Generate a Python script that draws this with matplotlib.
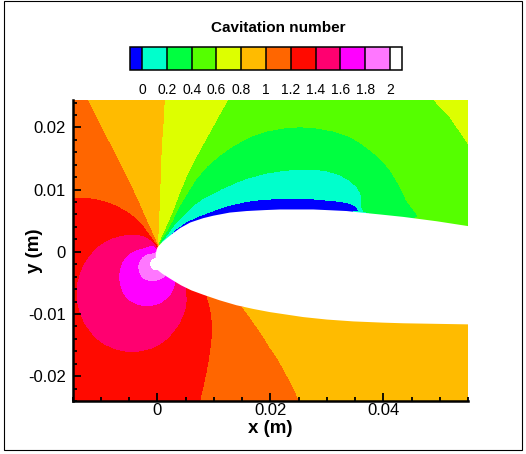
import matplotlib
matplotlib.use("Agg")
import matplotlib.pyplot as plt
import matplotlib.ticker as mticker
from matplotlib.colors import ListedColormap, BoundaryNorm
from matplotlib.tri import Triangulation
from matplotlib.patches import Polygon, Rectangle

plt.rcParams['font.family'] = ['Liberation Sans', 'DejaVu Sans']
plt.rcParams['axes.unicode_minus'] = False

# ---------------- values ----------------
levels = [0.0, 0.2, 0.4, 0.6, 0.8, 1.0, 1.2, 1.4, 1.6, 1.8, 2.0]
level_labels = ["0", "0.2", "0.4", "0.6", "0.8", "1", "1.2", "1.4", "1.6", "1.8", "2"]
band_colors = ["#00FFCC", "#00FF40", "#55FF00", "#DDFF00", "#FFBB00",
               "#FF6600", "#FF0A00", "#FF0070", "#FF00FF", "#FF77FF"]
under_color = "#0000FF"
over_color = "#FFFFFF"

x_ticks = [0.0, 0.02, 0.04]
x_tick_labels = ["0", "0.02", "0.04"]
y_ticks = [-0.02, -0.01, 0.0, 0.01, 0.02]
y_tick_labels = ["-0.02", "-0.01", "0", "0.01", "0.02"]

# hydrofoil outline (m) and cavitation number read on its surface
nose_tip = (0.0, 0.0007)
foil_upper_x = [0.0008, 0.0017, 0.0028, 0.0040, 0.0058, 0.0081, 0.0099, 0.0128, 0.0158, 0.0190,
                0.0217, 0.0250, 0.0276, 0.0300, 0.0335, 0.0361, 0.0394, 0.0436, 0.0495, 0.0552, 0.0567]
foil_upper_y = [0.0015, 0.0022, 0.0030, 0.0038, 0.0047, 0.0054, 0.0058, 0.0063, 0.00655, 0.0067,
                0.0068, 0.0068, 0.0068, 0.0067, 0.00655, 0.0063, 0.0060, 0.0056, 0.0049, 0.0041, 0.0039]
foil_upper_sigma = [0.12, 0.05, -0.03, -0.1, -0.1, -0.1, -0.1, -0.1, -0.1, -0.1,
                    -0.1, -0.1, -0.1, -0.1, -0.1, 0.1, 0.3, 0.36, 0.45, 0.5, 0.5]
foil_front_x = [-0.0002, -0.0003, -0.0003, -0.0003, -0.0002, 0.0, 0.0004, 0.0009]
foil_front_y = [0.0001, -0.0006, -0.0013, -0.0020, -0.0025, -0.0029, -0.0032, -0.00355]
foil_front_sigma = [1.75, 1.9, 2.05, 2.2, 2.1, 2.0, 1.9, 1.85]
foil_lower_x = [0.0015, 0.0022, 0.0031, 0.0042, 0.0060, 0.0081, 0.0110, 0.0140, 0.0170, 0.0199,
                0.0258, 0.0300, 0.0347, 0.0400, 0.0436, 0.0500, 0.0567]
foil_lower_y = [-0.0039, -0.0043, -0.0048, -0.0054, -0.0062, -0.0069, -0.0078, -0.0086, -0.0092, -0.0097,
                -0.0105, -0.0109, -0.0112, -0.0114, -0.0115, -0.0116, -0.0117]
foil_lower_sigma = [1.75, 1.68, 1.6, 1.5, 1.3, 1.2, 1.1, 1.02, 0.97, 0.93,
                    0.9, 0.9, 0.9, 0.9, 0.88, 0.87, 0.85]

# iso-lines of the cavitation number traced on the picture (x, y in m)
iso_0_0 = [(0.0022, 0.0028), (0.0030, 0.0035), (0.0040, 0.0041), (0.0047, 0.0046), (0.0055, 0.0050),
           (0.0065, 0.0054), (0.0075, 0.0058), (0.0087, 0.0062), (0.0099, 0.0066), (0.0113, 0.0071),
           (0.0128, 0.0075), (0.0143, 0.0078), (0.0158, 0.0081), (0.0174, 0.0083), (0.0190, 0.0084),
           (0.0217, 0.0086), (0.0250, 0.0086), (0.0276, 0.0085), (0.0300, 0.0083), (0.0323, 0.0081),
           (0.0340, 0.0078), (0.0350, 0.0074), (0.0355, 0.0069), (0.0357, 0.0065)]
iso_0_2 = [(0.00046, 0.00136), (0.0008, 0.0018), (0.0013, 0.0023), (0.0019, 0.0030), (0.0025, 0.0038),
           (0.0032, 0.0046), (0.0040, 0.0054), (0.0052, 0.0065), (0.0065, 0.0076), (0.0081, 0.0086),
           (0.0099, 0.0094), (0.0113, 0.0101), (0.0128, 0.0107), (0.0143, 0.0113), (0.0158, 0.0118),
           (0.0174, 0.0122), (0.0190, 0.0126), (0.0217, 0.0130), (0.0250, 0.0133), (0.0276, 0.0133),
           (0.0300, 0.0130), (0.0323, 0.0124), (0.0340, 0.0115), (0.0353, 0.0105), (0.0360, 0.0094),
           (0.0362, 0.0083), (0.0362, 0.0072), (0.0366, 0.0065)]
iso_0_4 = [(0.00034, 0.00143), (0.0006, 0.0019), (0.0010, 0.0025), (0.0016, 0.0033), (0.0022, 0.0043),
           (0.0030, 0.0058), (0.0040, 0.0075), (0.0053, 0.0095), (0.0069, 0.0118), (0.0088, 0.0138),
           (0.0111, 0.0156), (0.0137, 0.0172), (0.0164, 0.0185), (0.0193, 0.0194), (0.0223, 0.0199),
           (0.0252, 0.0201), (0.0282, 0.0199), (0.0312, 0.0194), (0.0341, 0.0185), (0.0360, 0.0175),
           (0.0376, 0.0164), (0.0395, 0.0150), (0.0412, 0.0132), (0.0428, 0.0108), (0.0441, 0.0083),
           (0.0455, 0.0066), (0.0462, 0.0057)]
iso_0_6 = [(0.00021, 0.00147), (0.0004, 0.0019), (0.0007, 0.0025), (0.0011, 0.0033), (0.0016, 0.0043),
           (0.0022, 0.0055), (0.0030, 0.0073), (0.0040, 0.0097), (0.0051, 0.0121), (0.0064, 0.0145),
           (0.0078, 0.0169), (0.0093, 0.0193), (0.0108, 0.0218), (0.0123, 0.0242), (0.0135, 0.0266)]
iso_0_6_right = [(0.0466, 0.0266), (0.0492, 0.0242), (0.0518, 0.0217), (0.0552, 0.0172), (0.0567, 0.0152)]
iso_0_8 = [(0.00003, 0.0015), (0.00006, 0.0020), (0.0001, 0.0027), (0.00015, 0.0037), (0.0002, 0.0050),
           (0.0003, 0.0068), (0.0004, 0.0091), (0.0005, 0.0120), (0.0006, 0.0146), (0.0007, 0.0172),
           (0.0010, 0.0207), (0.0012, 0.0242), (0.0013, 0.0266)]
iso_1_0 = [(-0.00025, 0.00146), (-0.0004, 0.0019), (-0.0007, 0.0025), (-0.0011, 0.0033), (-0.0016, 0.0043),
           (-0.0022, 0.0055), (-0.0029, 0.0070), (-0.0037, 0.0086), (-0.0051, 0.0113), (-0.0066, 0.0140),
           (-0.0081, 0.0167), (-0.0096, 0.0193), (-0.0110, 0.0218), (-0.0123, 0.0242), (-0.0134, 0.0266)]
iso_1_0_lower = [(0.0148, -0.0089), (0.0162, -0.0106), (0.0176, -0.0124), (0.0187, -0.0139),
                 (0.0197, -0.0154), (0.0211, -0.0172), (0.0222, -0.0190), (0.0232, -0.0207),
                 (0.0241, -0.0223), (0.0249, -0.0239), (0.0256, -0.0258)]
iso_1_2 = [(-0.00046, 0.00136), (-0.0007, 0.0017), (-0.0010, 0.0021), (-0.0014, 0.0026), (-0.0019, 0.0032),
           (-0.0027, 0.0042), (-0.0037, 0.0051), (-0.0048, 0.0060), (-0.0061, 0.0067), (-0.0075, 0.0074),
           (-0.0090, 0.0079), (-0.0105, 0.0083), (-0.0120, 0.0085), (-0.0135, 0.0086), (-0.0150, 0.0086),
           (-0.0168, 0.0086)]
iso_1_2_lower = [(0.0086, -0.0072), (0.0090, -0.0084), (0.0093, -0.0097), (0.0095, -0.0110),
                 (0.0096, -0.0124), (0.0095, -0.0140), (0.0093, -0.0156), (0.0090, -0.0175),
                 (0.0086, -0.0194), (0.0081, -0.0216), (0.0075, -0.0239), (0.0072, -0.0258)]
iso_1_4 = [(-0.00066, 0.00116), (-0.0010, 0.0015), (-0.0015, 0.0019), (-0.0021, 0.0022), (-0.0028, 0.0025),
           (-0.0036, 0.00258), (-0.0045, 0.0026), (-0.0053, 0.00258), (-0.0062, 0.0025), (-0.0078, 0.0021),
           (-0.0094, 0.0014), (-0.0108, 0.0005), (-0.0119, -0.0007), (-0.0129, -0.0020), (-0.0136, -0.0035),
           (-0.0141, -0.0051), (-0.0142, -0.0067), (-0.0141, -0.0083), (-0.0136, -0.0099), (-0.0129, -0.0114),
           (-0.0119, -0.0127), (-0.0108, -0.0139), (-0.0094, -0.0148), (-0.0078, -0.0155), (-0.0062, -0.0159),
           (-0.0045, -0.0161), (-0.0028, -0.0159), (-0.0011, -0.0155), (0.0004, -0.0148), (0.0018, -0.0139),
           (0.0029, -0.0127), (0.0039, -0.0114), (0.0046, -0.0099), (0.0050, -0.0088), (0.0051, -0.0076),
           (0.0049, -0.0059)]
iso_1_6 = [(-0.00077, 0.00091), (-0.0016, 0.0007), (-0.0027, 0.0004), (-0.0035, 0.0002), (-0.0043, -0.0001),
           (-0.0050, -0.0005), (-0.0056, -0.0011), (-0.0061, -0.0018), (-0.0064, -0.0025), (-0.0066, -0.0033),
           (-0.0067, -0.0041), (-0.0066, -0.0049), (-0.0064, -0.0057), (-0.0061, -0.0064), (-0.0056, -0.0071),
           (-0.0050, -0.0077), (-0.0043, -0.0081), (-0.0035, -0.0084), (-0.0027, -0.0086), (-0.0018, -0.0087),
           (-0.0010, -0.0086), (-0.0001, -0.0084), (0.0007, -0.0081), (0.0014, -0.0076), (0.0020, -0.0071),
           (0.0025, -0.0065), (0.0028, -0.0058), (0.0031, -0.0051)]
iso_1_8 = [(-0.0005, -0.0003), (-0.0012, -0.0004), (-0.0017, -0.0005), (-0.0021, -0.0007), (-0.0026, -0.0010),
           (-0.0029, -0.0014), (-0.0032, -0.0019), (-0.0033, -0.0025), (-0.0032, -0.0031), (-0.0030, -0.0036),
           (-0.0026, -0.0041), (-0.0021, -0.0044), (-0.0015, -0.0046), (-0.0009, -0.0047), (-0.0003, -0.0046),
           (0.0003, -0.0044), (0.0008, -0.0042), (0.0012, -0.0040)]
iso_2_0 = [(-0.0005, -0.0011), (-0.0008, -0.0013), (-0.0011, -0.0016), (-0.0012, -0.0020), (-0.0011, -0.0024),
           (-0.0008, -0.0027), (-0.0004, -0.0029)]

# other read samples (x, y, sigma): stagnation core and the frame around the view
stagnation_core = [(-0.0007, -0.0020, 2.2)]
frame_samples = [(-0.0170, 0.0265, 1.10), (-0.0060, 0.0266, 0.90), (0.0070, 0.0265, 0.70),
                 (0.0200, 0.0266, 0.50), (0.0300, 0.0265, 0.50), (0.0400, 0.0266, 0.52),
                 (0.0570, 0.0265, 0.68), (0.0566, 0.0120, 0.52), (0.0567, 0.0080, 0.50),
                 (0.0566, -0.0140, 0.88), (0.0567, -0.0180, 0.90), (0.0570, -0.0260, 0.90),
                 (0.0470, -0.0258, 0.90), (0.0360, -0.0257, 0.90), (0.0160, -0.0257, 1.10),
                 (0.0000, -0.0257, 1.30), (-0.0080, -0.0258, 1.30), (-0.0170, -0.0260, 1.30),
                 (-0.0168, -0.0120, 1.30), (-0.0167, 0.0000, 1.30), (-0.0168, 0.0180, 1.10)]

# ---------------- assemble samples ----------------
iso_lines = [(0.0, iso_0_0), (0.2, iso_0_2), (0.4, iso_0_4), (0.6, iso_0_6), (0.6, iso_0_6_right),
             (0.8, iso_0_8), (1.0, iso_1_0), (1.0, iso_1_0_lower), (1.2, iso_1_2), (1.2, iso_1_2_lower),
             (1.4, iso_1_4), (1.6, iso_1_6), (1.8, iso_1_8), (2.0, iso_2_0)]
px, py, pz = [], [], []
for lev, pts in iso_lines:
    for (a, b) in pts:
        px.append(a); py.append(b); pz.append(lev)
for xs, ys, zs in [(foil_upper_x, foil_upper_y, foil_upper_sigma),
                   (foil_front_x, foil_front_y, foil_front_sigma),
                   (foil_lower_x, foil_lower_y, foil_lower_sigma)]:
    px += list(xs); py += list(ys); pz += list(zs)
for (a, b, c) in stagnation_core + frame_samples:
    px.append(a); py.append(b); pz.append(c)

# ---------------- figure ----------------
fig = plt.figure(figsize=(5.26, 4.54), dpi=100)
ax = fig.add_axes([0.1382, 0.1167, 0.7515, 0.6630])

cmap = ListedColormap(band_colors)
cmap.set_under(under_color)
cmap.set_over(over_color)
norm = BoundaryNorm(levels, cmap.N)

tri = Triangulation(px, py)
cs = ax.tricontourf(tri, pz, levels=levels, cmap=cmap, norm=norm, extend='both', zorder=1)

foil_poly = [nose_tip] + list(zip(foil_front_x, foil_front_y)) + list(zip(foil_lower_x, foil_lower_y)) \
    + list(zip(foil_upper_x, foil_upper_y))[::-1]
ax.add_patch(Polygon(foil_poly, closed=True, facecolor='white', edgecolor='none', zorder=3))

ax.set_xlim(-0.015, 0.055)
ax.set_ylim(-0.0240, 0.0244)

for s in ['top', 'right']:
    ax.spines[s].set_visible(False)
for s in ['left', 'bottom']:
    ax.spines[s].set_linewidth(1.8)
    ax.spines[s].set_zorder(5)

ax.xaxis.set_major_locator(mticker.FixedLocator(x_ticks))
ax.xaxis.set_major_formatter(mticker.FixedFormatter(x_tick_labels))
ax.yaxis.set_major_locator(mticker.FixedLocator(y_ticks))
ax.yaxis.set_major_formatter(mticker.FixedFormatter(y_tick_labels))
ax.xaxis.set_minor_locator(mticker.MultipleLocator(0.005))
ax.yaxis.set_minor_locator(mticker.MultipleLocator(0.002))
ax.tick_params(which='both', direction='in', top=False, right=False, width=1.3, colors='black')
ax.tick_params(which='major', length=5.5, labelsize=12)
ax.tick_params(which='minor', length=3)
ax.tick_params(axis='x', which='major', pad=1.5)
ax.tick_params(axis='y', which='major', pad=5)
for t in ax.get_xticklines() + ax.get_yticklines():
    t.set_zorder(6)

ax.set_xlabel("x (m)", fontsize=13.5, fontweight='bold')
ax.set_ylabel("y (m)", fontsize=13.5, fontweight='bold')
ax.xaxis.set_label_coords(0.5, -0.063)
ax.yaxis.set_label_coords(-0.074, 0.5)

# colour bar
cax = fig.add_axes([129.7 / 526, 1 - 69.5 / 454, (402.3 - 129.7) / 526, 22.8 / 454])
cb = fig.colorbar(cs, cax=cax, orientation='horizontal', extendrect=True, drawedges=True)
cb.set_ticks(levels, labels=level_labels)
cb.ax.tick_params(length=0, labelsize=10, pad=10)
cb.outline.set_linewidth(1.1)
cb.dividers.set_linewidth(1.1)
cb.dividers.set_color('black')

fig.text(278.3 / 526, 1 - 31.7 / 454, "Cavitation number", ha='center', va='baseline',
         fontsize=11, fontweight='bold')

fig.patches.append(Rectangle((4 / 526, 4 / 454), 518 / 526, 449 / 454, transform=fig.transFigure,
                             fill=False, edgecolor='black', linewidth=0.8))

fig.savefig("out.png", dpi=100)
